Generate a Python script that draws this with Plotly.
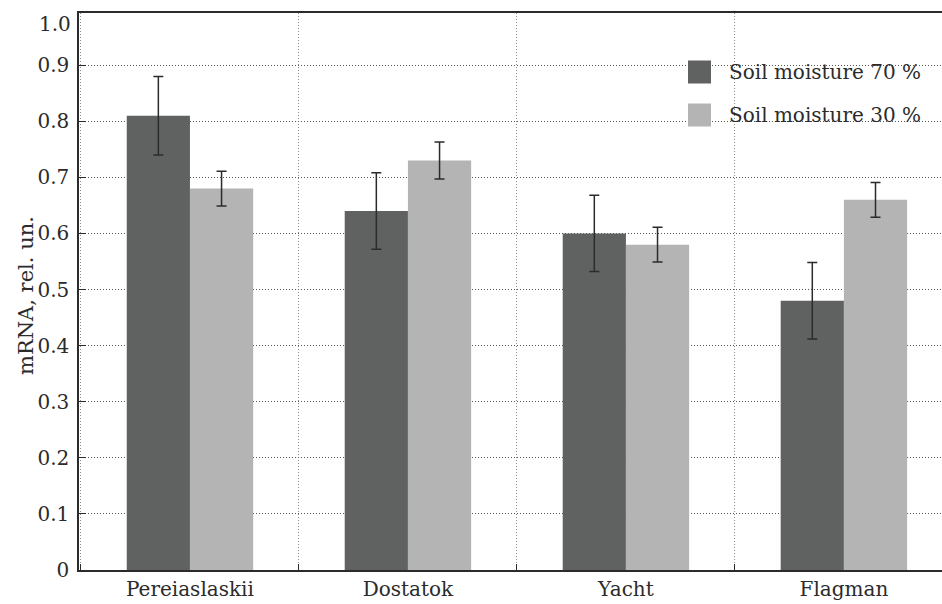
import plotly.graph_objects as go

categories = ["Pereiaslaskii", "Dostatok", "Yacht", "Flagman"]
moist70 = [0.81, 0.64, 0.60, 0.48]
moist70_err = [0.07, 0.068, 0.068, 0.068]
moist30 = [0.68, 0.73, 0.58, 0.66]
moist30_err = [0.031, 0.033, 0.031, 0.031]
series_names = ["Soil moisture 70 %", "Soil moisture 30 %"]
y_ticks = [0, 0.1, 0.2, 0.3, 0.4, 0.5, 0.6, 0.7, 0.8, 0.9]
y_ticktext = ["0", "0.1", "0.2", "0.3", "0.4", "0.5", "0.6", "0.7", "0.8", "0.9"]

DARK = "#606261"
LIGHT = "#b4b4b4"
INK = "#2b2b2b"
FONT = "DejaVu Serif"

fig = go.Figure()
for vals, errs, col, name in [(moist70, moist70_err, DARK, series_names[0]),
                              (moist30, moist30_err, LIGHT, series_names[1])]:
    fig.add_trace(go.Bar(
        x=categories, y=vals, name=name, marker=dict(color=col, line=dict(width=0)),
        error_y=dict(type="data", array=errs, visible=True, color=INK, thickness=1.5, width=5),
        showlegend=False, hoverinfo="skip",
    ))

fig.update_layout(
    width=942, height=604,
    margin=dict(l=79, r=0, t=13, b=34, autoexpand=False),
    paper_bgcolor="white", plot_bgcolor="white",
    barmode="group", bargap=0.42, bargroupgap=0,
    font=dict(family=FONT, size=20, color=INK),
)
fig.update_xaxes(
    type="category", range=[-0.509, 3.45],
    tickson="boundaries", ticks="inside", ticklen=6, tickcolor=INK,
    showgrid=True, gridcolor="#8a8a8a", griddash="1px,2px", gridwidth=1,
    showline=True, linecolor=INK, linewidth=1.5, mirror=True,
    tickfont=dict(family=FONT, size=20, color=INK),
    automargin=False,
)
fig.update_yaxes(
    range=[0, 0.993], tickvals=y_ticks, ticktext=y_ticktext,
    ticks="inside", ticklen=7, tickcolor=INK,
    showgrid=True, gridcolor="#555555", griddash="1px,2px", gridwidth=1,
    zeroline=False,
    showline=True, linecolor=INK, linewidth=1.5,
    tickfont=dict(family=FONT, size=20, color=INK),
    ticklabelstandoff=4,
    automargin=False,
)

plot_h = 604 - 13 - 34
plot_w = 942 - 79

# y-axis title
fig.add_annotation(xref="paper", yref="paper", x=(26 - 79) / plot_w, y=(570 - 296) / plot_h,
                   text="mRNA, rel. un.",
                   showarrow=False, textangle=-90, xanchor="center", yanchor="middle",
                   font=dict(family=FONT, size=21, color=INK))

# "1.0" label at top of axis
fig.add_annotation(xref="paper", yref="y", x=0, y=0.973, text="1.0", showarrow=False,
                   xanchor="right", xshift=-6, font=dict(family=FONT, size=20, color=INK))

# Manual legend
fig.add_shape(type="rect", xref="paper", yref="paper", x0=0.697, x1=0.985, y0=0.78, y1=0.955,
              fillcolor="white", line=dict(width=0), layer="between")
legend_rows = [(DARK, series_names[0], 72), (LIGHT, series_names[1], 115)]
for col, name, ypx in legend_rows:
    yc = 1 - (ypx - 13) / plot_h
    half = 11.5 / plot_h
    fig.add_shape(type="rect", xref="paper", yref="paper",
                  x0=(688 - 79) / plot_w, x1=(711 - 79) / plot_w, y0=yc - half, y1=yc + half,
                  fillcolor=col, line=dict(width=0), layer="above")
    fig.add_annotation(xref="paper", yref="paper", x=(727 - 79) / plot_w, y=yc, text=name,
                       showarrow=False, xanchor="left", yanchor="middle",
                       font=dict(family=FONT, size=20, color=INK))

fig.write_html("out.html", config={"displayModeBar": False},
               post_script="document.body.style.margin='0';document.body.style.overflow='hidden';")
